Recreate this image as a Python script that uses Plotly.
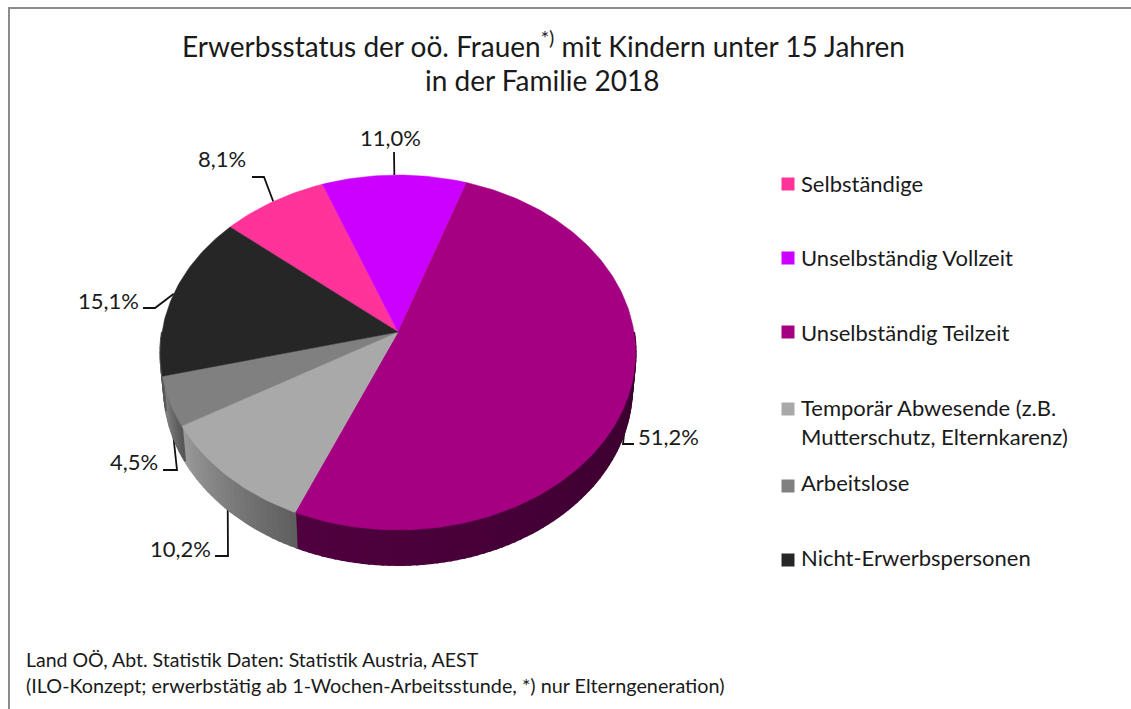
import math
import plotly.graph_objects as go

# ---- data ----
categories = ["Selbständige", "Unselbständig Vollzeit", "Unselbständig Teilzeit",
              "Temporär Abwesende (z.B.<br>Mutterschutz, Elternkarenz)", "Arbeitslose", "Nicht-Erwerbspersonen"]
values = [8.1, 11.0, 51.2, 10.2, 4.5, 15.1]
value_labels = ["8,1%", "11,0%", "51,2%", "10,2%", "4,5%", "15,1%"]
top_colors = ["#ff3399", "#cc00ff", "#a50082", "#a9a9a9", "#808080", "#262626"]
# side gradient: colour at left and right end of a slice's side
side_left = ["#99205c", "#7a0099", "#50003f", "#9a9a9a", "#858585", "#5a5a5a"]
side_right = ["#99205c", "#7a0099", "#38002c", "#5e5e5e", "#555555", "#5a5a5a"]

# ---- layout constants (pixels in a 1131x709 canvas) ----
W, H = 1131, 709
CX, CY = 398, 332
A, B, K = 236.0, 175.1, 0.1155
DEPTH = 35
BOTTOM_SCALE = 0.985
START = -49.9
FONT = "Lato"
TXT = "#1a1a1a"


def rim(theta_deg, r=1.0, down=0.0, sx=1.0):
    t = math.radians(theta_deg)
    u, v = r * math.sin(t), r * math.cos(t)
    d = 1 + K * v
    return CX + sx * A * u / d, CY - B * v / d + down


def hex_mix(c1, c2, f):
    a = [int(c1[i:i + 2], 16) for i in (1, 3, 5)]
    b = [int(c2[i:i + 2], 16) for i in (1, 3, 5)]
    return "rgb(%d,%d,%d)" % tuple(round(p + (q - p) * f) for p, q in zip(a, b))


total = sum(values)
edges = [START]
for val in values:
    edges.append(edges[-1] + val / total * 360)
mids = [(edges[i] + edges[i + 1]) / 2 for i in range(len(values))]

fig = go.Figure()

# leader lines (under the pie): from the slice's rim to the elbow next to the label
label_pos = [(222, 158), (390, 137), (668, 436), (180, 548), (134, 461), (108, 300)]
elbows = [[(264, 177), (252, 177)], [(394, 152)], [(623, 444), (634, 444)],
          [(228, 556), (215, 556)], [(177, 470), (163, 470)], [(155, 308), (143, 308)]]
for i, e in enumerate(elbows):
    x0, y0 = rim(mids[i])
    fig.add_trace(go.Scatter(x=[x0] + [p[0] for p in e], y=[y0] + [p[1] for p in e], mode="lines",
                             line=dict(color="#111111", width=1.8), hoverinfo="skip", showlegend=False))

# sides: thin strips along the front rim with a colour gradient
for i in range(len(values)):
    lo, hi = max(edges[i], 90), min(edges[i + 1], 270)
    if hi <= lo:
        continue
    n = max(2, int((hi - lo) / 1.5))
    for j in range(n):
        t0 = lo + (hi - lo) * j / n
        t1 = lo + (hi - lo) * (j + 1) / n
        f = 1 - (j + .5) / n  # angle grows clockwise, i.e. moving to the left
        col = hex_mix(side_left[i], side_right[i], f)
        ts = [t0 + (t1 - t0) * s / 3 for s in range(4)]
        pts = [rim(t) for t in ts] + [rim(t, down=DEPTH, sx=BOTTOM_SCALE) for t in reversed(ts)]
        pts.append(pts[0])
        fig.add_trace(go.Scatter(x=[p[0] for p in pts], y=[p[1] for p in pts], mode="lines", fill="toself",
                                 fillcolor=col, line=dict(color=col, width=2), hoverinfo="skip", showlegend=False))

# top faces
apex = rim(0, r=0)
for i in range(len(values)):
    a0, a1 = edges[i], edges[i + 1]
    n = max(4, int((a1 - a0) / 1.0))
    pts = [apex] + [rim(a0 + (a1 - a0) * s / n) for s in range(n + 1)] + [apex]
    fig.add_trace(go.Scatter(x=[p[0] for p in pts], y=[p[1] for p in pts], mode="lines", fill="toself",
                             fillcolor=top_colors[i], line=dict(color=top_colors[i], width=0.5),
                             name=categories[i].replace("<br>", " "), hoverinfo="name", showlegend=False))

# legend
legend_y = [184, 258, 332, 409, 486, 560]
fig.add_trace(go.Scatter(x=[788] * len(legend_y), y=legend_y, mode="markers",
                         marker=dict(symbol="square", size=13, color=top_colors, line=dict(width=0)),
                         hoverinfo="skip", showlegend=False))
ann = []
legend_text_y = [183, 257, 332, 422, 482, 557]
for name, y in zip(categories, legend_text_y):
    ann.append(dict(x=799, y=y, text=name, xanchor="left", yanchor="middle", align="left",
                    showarrow=False, font=dict(family=FONT, size=22, color=TXT)))
for text, (x, y) in zip(value_labels, label_pos):
    ann.append(dict(x=x, y=y, text=text, xanchor="center", yanchor="middle", showarrow=False,
                    font=dict(family=FONT, size=22, color=TXT)))
# title
ann.append(dict(x=543, y=44, text="Erwerbsstatus der oö. Frauen<sup>*)</sup> mit Kindern unter 15 Jahren",
                xanchor="center", yanchor="middle", showarrow=False, font=dict(family=FONT, size=28, color=TXT)))
ann.append(dict(x=542, y=80, text="in der Familie 2018", xanchor="center", yanchor="middle", showarrow=False,
                font=dict(family=FONT, size=28, color=TXT)))
# footer
ann.append(dict(x=24, y=659, text="Land OÖ, Abt. Statistik Daten: Statistik Austria, AEST", xanchor="left",
                yanchor="middle", showarrow=False, font=dict(family=FONT, size=19.5, color=TXT)))
ann.append(dict(x=24, y=685, text="(ILO-Konzept; erwerbstätig ab 1-Wochen-Arbeitsstunde, *) nur Elterngeneration)",
                xanchor="left", yanchor="middle", showarrow=False, font=dict(family=FONT, size=19.8, color=TXT)))

fig.update_layout(
    width=W, height=H, margin=dict(l=0, r=0, t=0, b=0), paper_bgcolor="white", plot_bgcolor="white",
    xaxis=dict(range=[0, W], visible=False, fixedrange=True),
    yaxis=dict(range=[H, 0], visible=False, fixedrange=True),
    annotations=ann, showlegend=False,
    shapes=[dict(type="rect", x0=9, y0=8, x1=W + 5, y1=H + 5, line=dict(color="#8c8c8c", width=2), layer="below")],
)
fig.write_html("out.html", config=dict(displayModeBar=False),
               post_script="document.body.style.margin='0';document.documentElement.style.overflow='hidden';")
